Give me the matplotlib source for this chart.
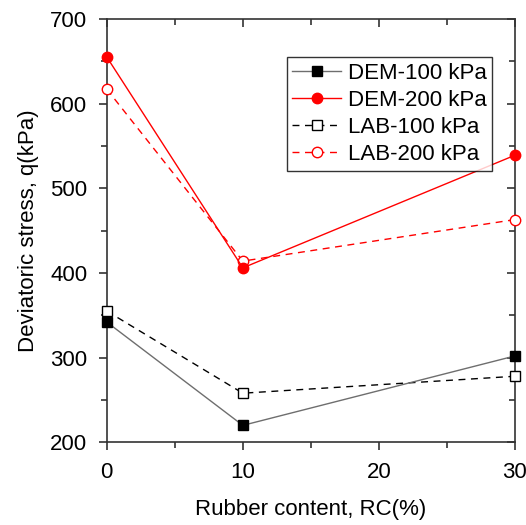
import matplotlib
matplotlib.use("Agg")
import matplotlib.pyplot as plt
from matplotlib.ticker import MultipleLocator

plt.rcParams["font.family"] = ["Liberation Sans", "DejaVu Sans"]

rc = [0, 10, 30]
dem_100 = [342, 220, 302]
dem_200 = [655, 406, 539]
lab_100 = [355, 258, 278]
lab_200 = [617, 414, 463]

fig = plt.figure(figsize=(5.26, 5.25), dpi=100)
ax = fig.add_axes([0.203, 0.1575, 0.776, 0.8065])

ms = 7.5
ax.plot(rc, dem_100, color="#6e6e6e", lw=1.0, marker="s", ms=ms,
        mfc="black", mec="black", label="DEM-100 kPa", clip_on=False, zorder=4)
ax.plot(rc, dem_200, color="red", lw=1.0, marker="o", ms=ms,
        mfc="red", mec="red", label="DEM-200 kPa", clip_on=False, zorder=4)
ax.plot(rc, lab_100, color="black", lw=1.0, ls=(0, (5, 4)), marker="s", ms=ms,
        mfc="white", mec="black", label="LAB-100 kPa", clip_on=False, zorder=3)
ax.plot(rc, lab_200, color="red", lw=1.0, ls=(0, (5, 4)), marker="o", ms=ms,
        mfc="white", mec="red", label="LAB-200 kPa", clip_on=False, zorder=3)

ax.set_xlim(0, 30)
ax.set_ylim(200, 700)
ax.xaxis.set_major_locator(MultipleLocator(10))
ax.xaxis.set_minor_locator(MultipleLocator(5))
ax.yaxis.set_major_locator(MultipleLocator(100))
ax.yaxis.set_minor_locator(MultipleLocator(50))

for s in ax.spines.values():
    s.set_linewidth(1.2)
    s.set_color("#333333")
ax.tick_params(which="both", direction="out", width=1.2, color="#333333",
               labelsize=16, top=False, right=False)
ax.tick_params(which="major", length=6)
ax.tick_params(which="minor", length=4)
ax.tick_params(axis="x", which="major", pad=8)
ax.tick_params(axis="y", which="major", pad=8)

# inward ticks on the top and right edges
sec_x = ax.secondary_xaxis("top")
sec_x.xaxis.set_major_locator(MultipleLocator(10))
sec_x.xaxis.set_minor_locator(MultipleLocator(5))
sec_x.tick_params(which="both", direction="in", width=1.2, color="#333333",
                  labeltop=False)
sec_x.tick_params(which="major", length=6)
sec_x.tick_params(which="minor", length=4)
sec_y = ax.secondary_yaxis("right")
sec_y.yaxis.set_major_locator(MultipleLocator(100))
sec_y.yaxis.set_minor_locator(MultipleLocator(50))
sec_y.tick_params(which="both", direction="in", width=1.2, color="#333333",
                  labelright=False)
sec_y.tick_params(which="major", length=6)
sec_y.tick_params(which="minor", length=4)
for sa in (sec_x, sec_y):
    for s in sa.spines.values():
        s.set_visible(False)

ax.set_xlabel("Rubber content, RC(%)", fontsize=16, labelpad=12)
ax.set_ylabel("Deviatoric stress, q(kPa)", fontsize=16, labelpad=8)

leg = ax.legend(loc="upper right", bbox_to_anchor=(0.944, 0.910), fontsize=16,
                frameon=True, fancybox=False, edgecolor="black",
                handlelength=2.2, borderpad=0.25, labelspacing=0.28,
                handletextpad=0.3, borderaxespad=0)
leg.get_frame().set_linewidth(1.0)

fig.savefig("out.png", dpi=100)
